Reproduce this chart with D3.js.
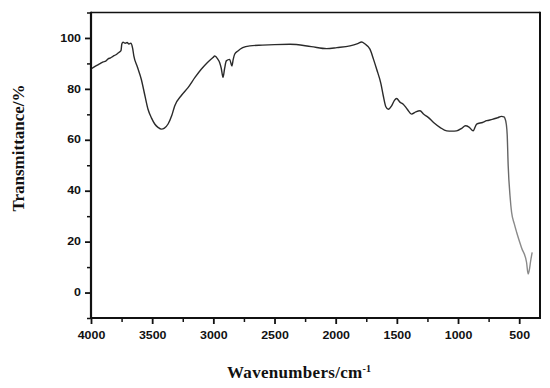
<!DOCTYPE html>
<html>
<head>
<meta charset="utf-8">
<script src="https://cdn.jsdelivr.net/npm/d3@7"></script>
<style>
  body { margin: 0; background: #fff; }
  .tick text { font-family: "Liberation Sans", Arial, sans-serif; font-weight: bold; font-size: 10px; fill: #111; }
  .title { font-family: "Liberation Serif", "Times New Roman", serif; font-weight: bold; font-size: 17px; fill: #111; }
</style>
</head>
<body>
<svg id="chart" width="550" height="388"></svg>
<script>
// IR spectrum
var wavenumber = [4000, 3960, 3930, 3900, 3880, 3860, 3840, 3820, 3800, 3785, 3770, 3755,
  3748, 3738, 3720, 3705, 3690, 3675, 3660, 3650, 3620, 3589, 3560, 3534, 3505, 3479,
  3450, 3425, 3400, 3370, 3340, 3316, 3260, 3207, 3150, 3099, 3050, 3003, 2989, 2965,
  2948, 2935, 2921, 2908, 2894, 2867, 2848, 2838, 2826, 2799, 2760, 2701, 2600, 2500,
  2374, 2200, 2074, 1990, 1883, 1820, 1788, 1760, 1720, 1690, 1665, 1630, 1611, 1590,
  1570, 1543, 1520, 1502, 1475, 1448, 1415, 1380, 1345, 1311, 1280, 1244, 1200, 1148,
  1093, 1050, 1012, 970, 940, 910, 876, 860, 848, 800, 766, 720, 680, 644, 625, 617,
  605, 598, 590, 575, 562, 540, 521, 480, 440, 427, 415, 408, 394];
var transmittance = [87.8, 89.0, 89.8, 90.6, 90.9, 91.8, 92.2, 92.8, 93.3, 93.8, 94.4, 95.0,
  97.6, 98.3, 97.9, 98.2, 97.6, 97.9, 96.0, 93.0, 88.5, 83.8, 77.5, 72.0, 68.5, 66.2,
  64.8, 64.2, 64.6, 66.2, 69.5, 73.3, 77.5, 80.5, 84.5, 87.7, 90.3, 92.3, 92.9, 91.8,
  90.3, 88.0, 84.5, 88.0, 91.0, 91.6, 89.0, 91.5, 93.6, 94.9, 96.2, 96.9, 97.2, 97.4,
  97.5, 96.6, 95.8, 96.2, 96.9, 97.8, 98.4, 97.6, 95.6, 91.5, 87.7, 82.0, 77.3, 73.0,
  72.0, 73.3, 75.5, 76.2, 74.8, 74.0, 72.0, 70.1, 71.0, 71.4, 70.0, 68.8, 66.8, 64.9,
  63.5, 63.4, 63.5, 64.5, 65.5, 65.0, 63.5, 65.0, 66.2, 66.8, 67.5, 68.0, 68.6, 69.2, 69.0, 68.5,
  66.0, 62.0, 50.0, 38.0, 31.5, 27.0, 23.7, 17.5, 11.9, 7.3, 9.5, 11.9, 15.8];

var xMajor = [4000, 3500, 3000, 2500, 2000, 1500, 1000, 500];
var xMinor = [3750, 3250, 2750, 2250, 1750, 1250, 750];
var yMajor = [0, 20, 40, 60, 80, 100];
var yMinor = [-10, 10, 30, 50, 70, 90, 110];

// plot box (note: "top" is taken by window.top, so use own names)
var pL = 91, pT = 12.5, pR = 540, pB = 318;

var svg = d3.select("#chart");

var x = d3.scaleLinear().domain([4000, 330]).range([pL, pR]);
var y = d3.scaleLinear().domain([-10, 110]).range([pB, pT]);

var data = wavenumber.map(function (w, i) { return { w: w, t: transmittance[i] }; });

// line goes lighter over the last steep drop
var grad = svg.append("defs").append("linearGradient")
  .attr("id", "fade")
  .attr("gradientUnits", "userSpaceOnUse")
  .attr("x1", x(640)).attr("x2", x(560))
  .attr("y1", 0).attr("y2", 0);
grad.append("stop").attr("offset", 0).attr("stop-color", "#2a2a2a");
grad.append("stop").attr("offset", 1).attr("stop-color", "#8a8a8a");

svg.append("path")
  .datum(data)
  .attr("fill", "none")
  .attr("stroke", "url(#fade)")
  .attr("stroke-width", 1.4)
  .attr("stroke-linejoin", "round")
  .attr("d", d3.line()
    .x(d => x(d.w))
    .y(d => y(d.t))
    .curve(d3.curveMonotoneX));

function styleAxis(g, w) {
  g.select(".domain").remove();
  g.selectAll(".tick line").attr("stroke", "#111").attr("stroke-width", w);
}

// minor ticks
svg.append("g")
  .attr("transform", "translate(0," + pB + ")")
  .call(d3.axisBottom(x).tickValues(xMinor).tickSize(4).tickFormat(""))
  .call(g => styleAxis(g, 1.5));
svg.append("g")
  .attr("transform", "translate(" + pL + ",0)")
  .call(d3.axisLeft(y).tickValues(yMinor).tickSize(4).tickFormat(""))
  .call(g => styleAxis(g, 1.5));

// major ticks with labels
svg.append("g")
  .attr("transform", "translate(0," + pB + ")")
  .call(d3.axisBottom(x).tickValues(xMajor).tickSize(6).tickPadding(8).tickFormat(d3.format("d")))
  .call(g => styleAxis(g, 1.8));
svg.append("g")
  .attr("transform", "translate(" + pL + ",0)")
  .call(d3.axisLeft(y).tickValues(yMajor).tickSize(6).tickPadding(4).tickFormat(d3.format("d")))
  .call(g => styleAxis(g, 1.8));

// labels in the picture are wide and short
svg.selectAll(".tick text")
  .filter(function () { return this.textContent.length > 0; })
  .attr("textLength", function () { return this.textContent.length * 6.9; })
  .attr("lengthAdjust", "spacingAndGlyphs");

// frame
svg.append("line").attr("x1", pL).attr("x2", pR).attr("y1", pT).attr("y2", pT)
  .attr("stroke", "#111").attr("stroke-width", 1.4);
svg.append("line").attr("x1", pR).attr("x2", pR).attr("y1", pT - 0.7).attr("y2", pB + 1)
  .attr("stroke", "#111").attr("stroke-width", 2);
svg.append("line").attr("x1", pL).attr("x2", pL).attr("y1", pT - 0.7).attr("y2", pB + 1)
  .attr("stroke", "#111").attr("stroke-width", 2.2);
svg.append("line").attr("x1", pL - 1).attr("x2", pR + 1).attr("y1", pB).attr("y2", pB)
  .attr("stroke", "#111").attr("stroke-width", 2.2);

// axis titles
var xt = svg.append("text")
  .attr("class", "title")
  .attr("x", 227)
  .attr("y", 378)
  .attr("letter-spacing", "0.3px");
xt.append("tspan").text("Wavenumbers/cm");
xt.append("tspan").attr("dy", -6).attr("font-size", "10px").text("-1");

svg.append("text")
  .attr("class", "title")
  .attr("text-anchor", "middle")
  .attr("transform", "translate(24,148) rotate(-90)")
  .text("Transmittance/%");
</script>
</body>
</html>
